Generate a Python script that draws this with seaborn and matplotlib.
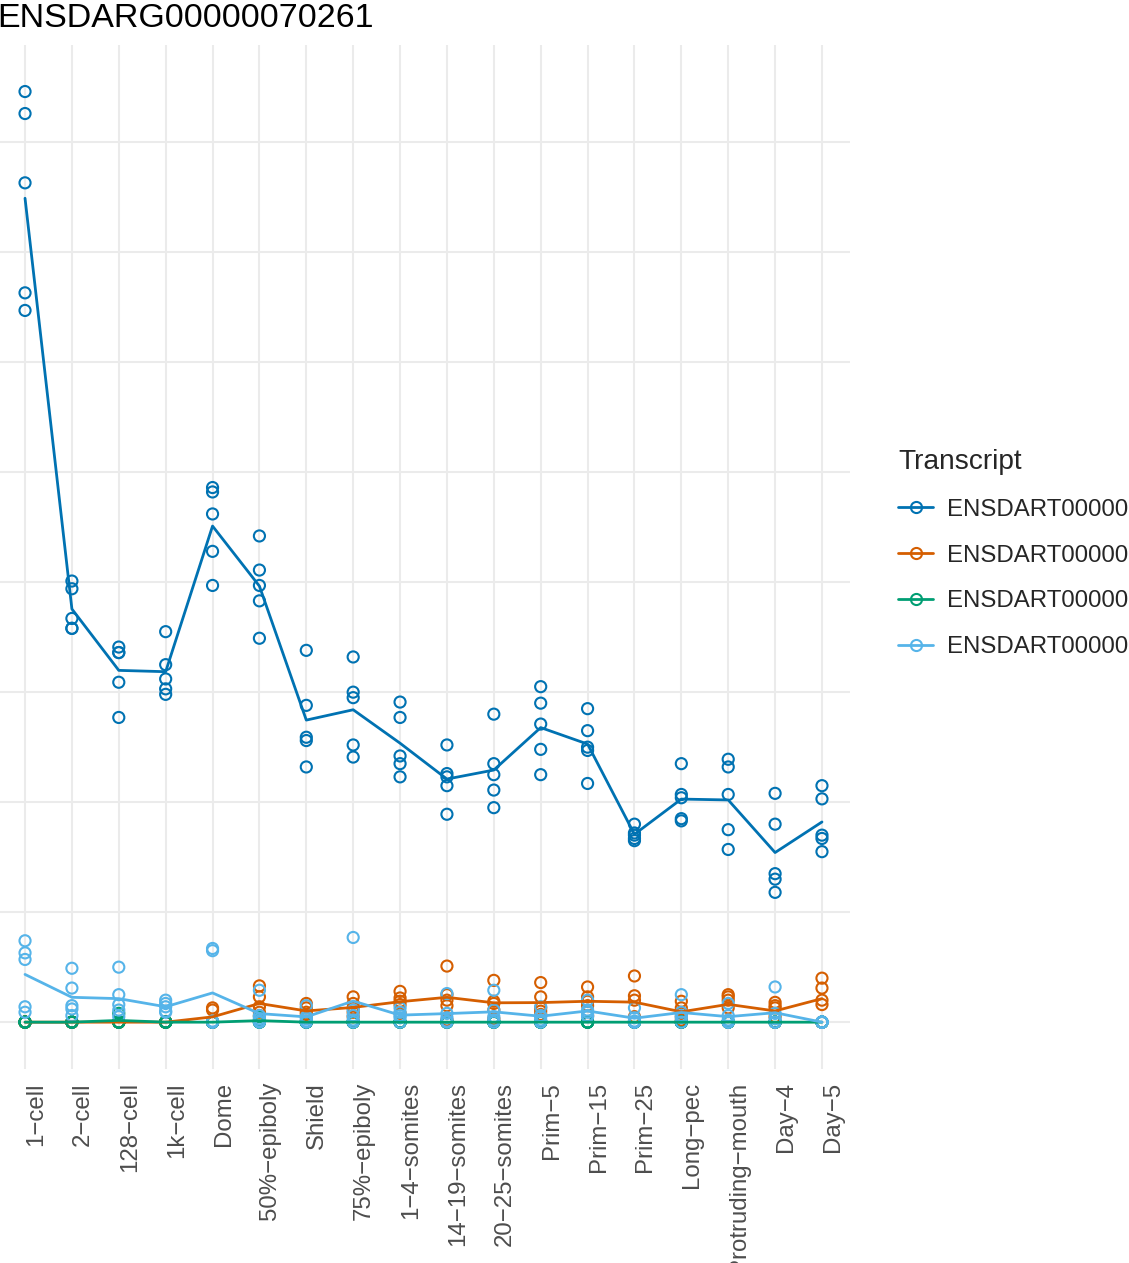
import numpy as np
import pandas as pd
import matplotlib
matplotlib.use("Agg")
import matplotlib.pyplot as plt
from matplotlib.lines import Line2D
import seaborn as sns

# ---------------- data ----------------
stages = ["1−cell", "2−cell", "128−cell", "1k−cell", "Dome", "50%−epiboly",
          "Shield", "75%−epiboly", "1−4−somites", "14−19−somites",
          "20−25−somites", "Prim−5", "Prim−15", "Prim−25", "Long−pec",
          "Protruding−mouth", "Day−4", "Day−5"]

transcripts = ["ENSDART00000064895", "ENSDART00000137211",
               "ENSDART00000141830", "ENSDART00000148102"]

# replicate values (5 per stage) for each transcript
tx1_values = [
    [84.6, 82.6, 76.3, 66.3, 64.7],
    [40.1, 39.4, 36.7, 35.8, 35.8],
    [34.1, 33.6, 33.6, 30.9, 27.7],
    [35.5, 32.5, 31.2, 30.3, 29.8],
    [48.6, 48.2, 46.2, 42.8, 39.7],
    [44.2, 41.1, 39.7, 38.3, 34.9],
    [33.8, 28.8, 25.9, 25.6, 23.2],
    [33.2, 30.0, 29.5, 25.2, 24.1],
    [29.1, 27.7, 24.2, 23.5, 22.3],
    [25.2, 22.6, 22.3, 21.5, 18.9],
    [28.0, 23.5, 22.5, 21.1, 19.5],
    [30.5, 29.0, 27.1, 24.8, 22.5],
    [28.5, 26.5, 25.0, 24.7, 21.7],
    [18.0, 17.2, 17.0, 16.7, 16.5],
    [23.5, 20.7, 20.4, 18.5, 18.3],
    [23.9, 23.2, 20.7, 17.5, 15.7],
    [20.8, 18.0, 13.5, 13.0, 11.8],
    [21.5, 20.3, 17.0, 16.7, 15.5],
]
tx2_values = [
    [0, 0, 0, 0, 0],
    [0, 0, 0, 0, 0],
    [0, 0, 0, 0, 0],
    [0, 0, 0, 0, 0],
    [1.3, 1.1, 0, 0, 0],
    [3.3, 2.3, 1.4, 0.9, 0.6],
    [1.7, 1.3, 0.9, 0.7, 0.5],
    [2.3, 1.7, 1.3, 0.9, 0.5],
    [2.8, 2.2, 1.9, 1.6, 0.8],
    [5.1, 2.5, 2.0, 1.5, 0.2],
    [3.8, 1.9, 1.7, 1.1, 0.3],
    [3.6, 2.3, 1.3, 1.0, 0.7],
    [3.2, 2.3, 1.9, 1.5, 0.6],
    [4.2, 2.4, 2.0, 0.5, 0],
    [1.9, 1.3, 0.8, 0.5, 0.2],
    [2.5, 2.3, 2.0, 1.3, 0],
    [1.8, 1.5, 1.3, 0.5, 0],
    [4.0, 3.1, 2.0, 1.6, 0],
]
tx3_values = [
    [0, 0, 0, 0, 0],
    [0, 0, 0, 0, 0],
    [0.8, 0, 0, 0, 0],
    [0, 0, 0, 0, 0],
    [0, 0, 0, 0, 0],
    [0.5, 0.2, 0, 0, 0],
    [0, 0, 0, 0, 0],
    [0, 0, 0, 0, 0],
    [0, 0, 0, 0, 0],
    [0, 0, 0, 0, 0],
    [0, 0, 0, 0, 0],
    [0, 0, 0, 0, 0],
    [0, 0, 0, 0, 0],
    [0, 0, 0, 0, 0],
    [0, 0, 0, 0, 0],
    [0, 0, 0, 0, 0],
    [0, 0, 0, 0, 0],
    [0, 0, 0, 0, 0],
]
tx4_values = [
    [7.4, 6.3, 5.7, 1.4, 0.9],
    [4.9, 3.1, 1.5, 1.2, 0.6],
    [5.0, 2.5, 1.6, 1.1, 0.5],
    [2.0, 1.7, 1.4, 1.0, 0.9],
    [6.7, 6.5, 0.1, 0, 0],
    [2.9, 0.6, 0.3, 0.1, 0],
    [1.5, 0.5, 0.3, 0.1, 0],
    [7.7, 1.1, 0.6, 0.2, 0],
    [1.3, 0.9, 0.6, 0.4, 0],
    [2.6, 0.8, 0.4, 0.1, 0],
    [2.9, 1.1, 0.5, 0.2, 0],
    [1.4, 0.6, 0.5, 0.2, 0],
    [2.0, 1.1, 0.9, 0.6, 0.5],
    [1.3, 0.4, 0.1, 0, 0],
    [2.5, 0.9, 0.6, 0.4, 0],
    [1.7, 0.6, 0.2, 0, 0],
    [3.2, 0.8, 0.3, 0, 0],
    [0, 0, 0, 0, 0],
]

title_text = "ENSDARG00000070261"
legend_title = "Transcript"
colors = ["#0072B2", "#D55E00", "#009E73", "#56B4E9"]

# ---------------- build long table ----------------
rows = []
for tx, vals in zip(transcripts, [tx1_values, tx2_values, tx3_values, tx4_values]):
    for stage, reps in zip(stages, vals):
        for v in reps:
            rows.append({"Stage": stage, "TPM": v, "Transcript": tx})
df = pd.DataFrame(rows)
df["Stage"] = pd.Categorical(df["Stage"], categories=stages, ordered=True)
df["x"] = df["Stage"].cat.codes
palette = dict(zip(transcripts, colors))

# ---------------- figure ----------------
sns.set_theme(style="whitegrid")
plt.rcParams["font.family"] = ["Liberation Sans", "DejaVu Sans"]

W, H = 1129, 1263
fig = plt.figure(figsize=(W / 100, H / 100), dpi=100)
# panel in pixel coordinates (left, top, right, bottom)
pl, pt, pr, pb = -3.1, 45.0, 850.1, 1068.7
ax = fig.add_axes([pl / W, 1 - pb / H, (pr - pl) / W, (pb - pt) / H])

sns.scatterplot(data=df, x="x", y="TPM", hue="Transcript", hue_order=transcripts,
                palette=palette, marker="o", s=64,
                linewidth=1.5, legend=False, ax=ax, zorder=2)
# make circles open with coloured edges
for coll in ax.collections:
    fc = coll.get_facecolors()
    coll.set_edgecolors(fc)
    coll.set_facecolors("none")

sns.lineplot(data=df, x="x", y="TPM", hue="Transcript", hue_order=transcripts,
             palette=palette, estimator="mean", errorbar=None, linewidth=2.0,
             legend=False, ax=ax, zorder=3)

ax.set_xlim(-0.6, len(stages) - 0.4)
ax.set_ylim(-4.23, 88.83)
ax.set_xticks(range(len(stages)))
ax.set_xticklabels(stages, rotation=90, ha="left", va="top",
                   fontsize=17.3, color="#4D4D4D")
ax.set_yticks(np.arange(0, 81, 10))
ax.tick_params(axis="x", length=0, pad=9.6)
ax.tick_params(axis="y", length=0, labelleft=False)
ax.set_xlabel("")
ax.set_ylabel("")
ax.set_facecolor("white")
for s in ax.spines.values():
    s.set_visible(False)
ax.grid(True, color="#EBEBEB", linewidth=1.5)
ax.set_axisbelow(True)

fig.text(pl / W, 1 - 26.7 / H, title_text, fontsize=24.5, color="black",
         ha="left", va="baseline")

handles = [Line2D([0], [0], color=c, linewidth=2.0, marker="o", markersize=8,
                  markerfacecolor="none", markeredgecolor=c, markeredgewidth=1.5)
           for c in colors]
leg = fig.legend(handles, transcripts, title=legend_title, loc="upper left",
                 bbox_to_anchor=(898 / W, 1 - 449 / H), frameon=False,
                 fontsize=17.3, title_fontsize=20.2, handlelength=1.46,
                 handletextpad=0.56, labelspacing=0.99, borderpad=0,
                 borderaxespad=0, alignment="left")

fig.savefig("out.png", dpi=100)
